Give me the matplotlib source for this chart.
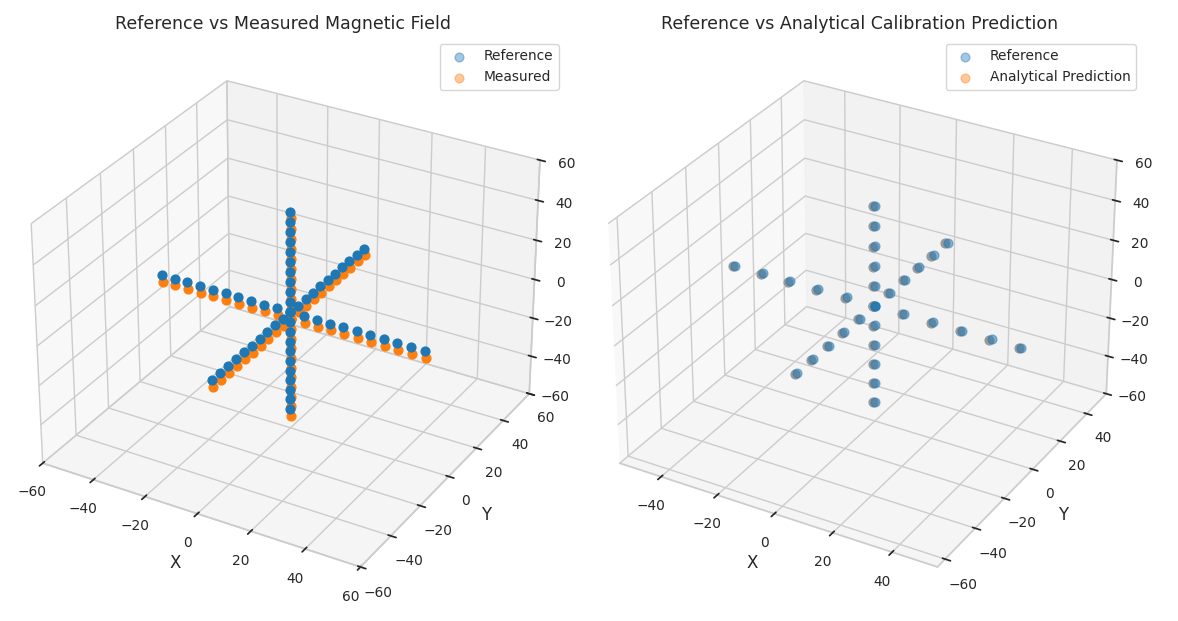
import numpy as np
import matplotlib.pyplot as plt
import seaborn as sns

sns.set_theme(style="whitegrid", font_scale=0.9)

# field steps applied along each axis (uT)
steps_left = [-50, -45, -40, -35, -30, -25, -20, -15, -10, -5, 0,
              5, 10, 15, 20, 25, 30, 35, 40, 45, 50]
steps_right = [-50, -40, -30, -20, -10, 0, 10, 20, 30, 40, 50]
# measured sensor bias (x, y, z)
bias = [1.5, -2.0, -1.5]
# analytical prediction residual (x, y, z)
pred_err = [-1.0, 0.5, -1.0]


def axis_points(steps):
    pts = []
    for k in range(3):
        for s in steps:
            p = [0.0, 0.0, 0.0]
            p[k] = s
            pts.append(p)
    return np.array(pts)


ref_l = axis_points(steps_left)
meas = ref_l + np.array(bias)
ref_r = axis_points(steps_right)
pred = ref_r + np.array(pred_err)

fig = plt.figure(figsize=(11.78, 6.21), dpi=100)

ax1 = fig.add_subplot(1, 2, 1, projection='3d', computed_zorder=False)
ax1.scatter(meas[:, 0], meas[:, 1], meas[:, 2], color='tab:orange', s=40, label='Measured', depthshade=False)
ax1.scatter(ref_l[:, 0], ref_l[:, 1], ref_l[:, 2], color='tab:blue', s=40, label='Reference', depthshade=False)
ax1.set_xlim(-60, 60); ax1.set_ylim(-60, 60); ax1.set_zlim(-60, 60)
ax1.set_xlabel('X', fontsize=12); ax1.set_ylabel('Y', fontsize=12)
ax1.set_title('Reference vs Measured Magnetic Field', fontsize=12.5)
h, l = ax1.get_legend_handles_labels()
leg = ax1.legend(h[::-1], l[::-1], loc='upper right')
for lh in leg.legend_handles:
    lh.set_alpha(0.4)

ax2 = fig.add_subplot(1, 2, 2, projection='3d', computed_zorder=False)
ax2.scatter(pred[:, 0], pred[:, 1], pred[:, 2], color='#999999', s=40, label='Analytical Prediction', depthshade=False)
ax2.scatter(ref_r[:, 0], ref_r[:, 1], ref_r[:, 2], color='tab:blue', alpha=0.5, s=40, label='Reference', depthshade=False)
ax2.set_xlim(-55, 55); ax2.set_ylim(-65, 55); ax2.set_zlim(-60, 60)
ax2.set_xlabel('X', fontsize=12); ax2.set_ylabel('Y', fontsize=12)
ax2.set_title('Reference vs Analytical Calibration Prediction', fontsize=12.5)
h, l = ax2.get_legend_handles_labels()
leg = ax2.legend(h[::-1], l[::-1], loc='upper right')
leg.legend_handles[0].set_alpha(0.4)
leg.legend_handles[1].set_color('tab:orange')
leg.legend_handles[1].set_alpha(0.4)

plt.subplots_adjust(left=0.0, right=0.97, bottom=0.02, top=0.95, wspace=0.02)
plt.savefig('out.png')
